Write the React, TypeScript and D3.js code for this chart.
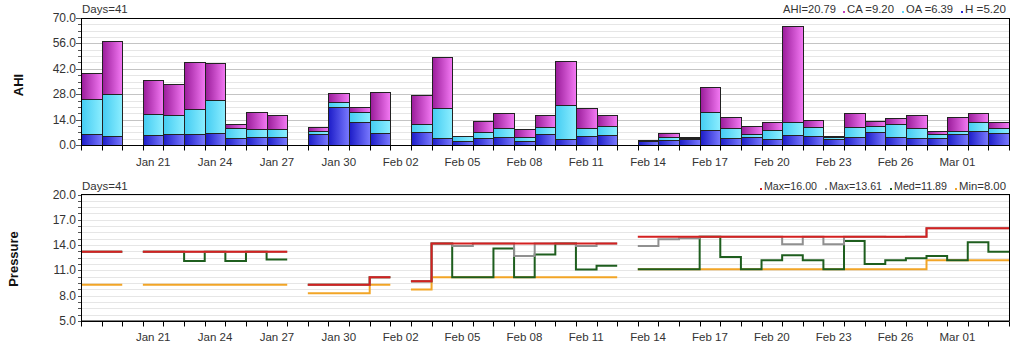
import React from "react";
import * as d3 from "d3";

// ---------- data ----------
const startDay = "2011-01-18";
const dayCount = 45;
// AHI components per day (null = no data)
const hValues: (number | null)[] = [6.2, 5.0, null, 5.7, 6.1, 6.1, 6.8, 4.0, 4.4, 4.4, null, 5.9, 20.9, 12.7, 6.8, null, 7.0, 3.9, 2.2, 3.9, 4.6, 2.2, 5.9, 3.3, 5.0, 5.5, null, 2.2, 2.9, 3.5, 8.2, 3.9, 4.6, 3.3, 5.3, 5.0, 3.3, 4.4, 7.3, 4.4, 4.0, 4.0, 6.1, 7.9, 6.6];
const oaValues: (number | null)[] = [19.2, 23.1, null, 11.6, 10.3, 13.8, 17.8, 5.2, 4.4, 4.6, null, 2.0, 2.8, 5.5, 7.0, null, 4.6, 16.5, 2.6, 3.3, 4.8, 2.0, 4.0, 18.7, 4.4, 5.0, null, 0.5, 1.3, 0.5, 9.9, 5.3, 1.6, 4.9, 7.2, 5.1, 1.0, 5.5, 3.0, 7.1, 5.4, 2.0, 1.4, 4.6, 2.6];
const caValues: (number | null)[] = [14.3, 29.4, null, 18.4, 17.2, 25.7, 20.4, 2.4, 9.6, 7.7, null, 2.0, 5.0, 2.6, 15.6, null, 16.2, 28.3, 0.0, 6.0, 8.1, 4.8, 6.4, 24.1, 11.0, 5.8, null, 0.0, 2.2, 0.3, 13.8, 6.0, 4.2, 4.4, 53.3, 3.6, 0.5, 7.5, 2.9, 3.3, 6.9, 1.9, 7.9, 4.9, 3.4];

// Pressure per day
const maxPressure: (number | null)[] = [13.2, 13.2, null, 13.2, 13.2, 13.2, 13.2, 13.2, 13.2, 13.2, null, 9.3, 9.3, 9.3, 10.2, null, 9.7, 14.2, 14.2, 14.2, 14.2, 14.2, 14.2, 14.2, 14.2, 14.2, null, 15.0, 15.0, 15.0, 15.0, 15.0, 15.0, 15.0, 15.0, 15.0, 15.0, 15.0, 15.0, 15.0, 15.0, 16.0, 16.0, 16.0, 16.0];
const p95Pressure: (number | null)[] = [13.2, 13.2, null, 13.2, 13.2, 13.2, 13.2, 13.2, 13.2, 13.2, null, 9.3, 9.3, 9.3, 10.2, null, 9.7, 14.2, 13.9, 14.2, 14.2, 12.7, 14.2, 14.2, 13.9, 14.2, null, 13.9, 14.7, 14.8, 15.0, 15.0, 15.0, 15.0, 14.1, 15.0, 14.1, 15.0, 15.0, 14.95, 15.0, 16.0, 16.0, 16.0, 16.0];
const medPressure: (number | null)[] = [13.2, 13.2, null, 13.2, 13.2, 12.1, 13.2, 12.1, 13.2, 12.3, null, 9.3, 9.3, 9.3, 10.2, null, 9.7, 14.2, 10.2, 10.2, 13.6, 10.2, 12.9, 14.2, 11.1, 11.55, null, 11.15, 11.15, 11.15, 15.0, 12.6, 11.15, 12.2, 12.8, 12.2, 11.15, 14.5, 11.75, 12.2, 12.45, 12.7, 12.2, 14.35, 13.2];
const minPressure: (number | null)[] = [9.3, 9.3, null, 9.3, 9.3, 9.3, 9.3, 9.3, 9.3, 9.3, null, 8.3, 8.3, 8.3, 9.3, null, 8.75, 10.2, 10.2, 10.2, 10.2, 10.2, 10.2, 10.2, 10.2, 10.2, null, 11.15, 11.15, 11.15, 11.15, 11.15, 11.15, 11.15, 11.15, 11.15, 11.15, 11.15, 11.15, 11.15, 11.15, 12.2, 12.2, 12.2, 12.2];

const tickLabels = ["Jan 21", "Jan 24", "Jan 27", "Jan 30", "Feb 02", "Feb 05", "Feb 08", "Feb 11", "Feb 14", "Feb 17", "Feb 20", "Feb 23", "Feb 26", "Mar 01"];

const ahiLegend = [
  { label: "AHI=20.79", key: "" },
  { label: "CA =9.20", key: "ca" },
  { label: "OA =6.39", key: "oa" },
  { label: "H =5.20", key: "h" },
];
const pressureLegend = [
  { label: "Max=16.00", key: "max" },
  { label: "Max=13.61", key: "p95" },
  { label: "Med=11.89", key: "med" },
  { label: "Min=8.00", key: "min" },
];

// ---------- styles ----------
const FONT = "'Liberation Sans', Arial, sans-serif";
const colors: Record<string, string> = {
  h: "#2a2ae0",
  oa: "#5ed8fa",
  ca: "#c040c0",
  max: "#d42020",
  p95: "#909090",
  med: "#1e5e1e",
  min: "#f2a526",
};

const W = 1024;
const H = 355;
const left = 81;
const right = 1009;

export default function App() {
  const start = d3.utcParse("%Y-%m-%d")(startDay)!;
  const end = d3.utcDay.offset(start, dayCount);
  const days = d3.utcDay.range(start, end);
  const x = d3.scaleUtc().domain([start, end]).range([left, right]);
  const parseLabel = d3.utcParse("%b %d %Y");
  const labelDates = tickLabels.map((t) => parseLabel(t + " 2011")!);

  const yTop = d3.scaleLinear().domain([0, 70]).range([145, 18]);
  const yBot = d3.scaleLinear().domain([5, 20]).range([321, 194.5]);

  const dayW = x(days[1]) - x(days[0]);

  const stepRuns = (vals: (number | null)[]) => {
    const runs: [Date, number][][] = [];
    let cur: [Date, number][] | null = null;
    vals.forEach((v, i) => {
      if (v == null) {
        cur = null;
        return;
      }
      if (!cur) {
        cur = [];
        runs.push(cur);
      }
      cur.push([days[i], v]);
    });
    return runs.map((r) => [...r, [d3.utcDay.offset(r[r.length - 1][0], 1), r[r.length - 1][1]] as [Date, number]]);
  };
  const line = d3
    .line<[Date, number]>()
    .x((d) => x(d[0]))
    .y((d) => yBot(d[1]))
    .curve(d3.curveStepAfter);

  const renderXAxis = (y0: number, labelY: number) => (
    <g>
      <line x1={left} x2={right} y1={y0} y2={y0} stroke="#000" strokeWidth={1} />
      {d3.utcDay.range(start, d3.utcDay.offset(end, 1)).map((d, i) => (
        <line key={i} x1={Math.round(x(d)) + 0.5} x2={Math.round(x(d)) + 0.5} y1={y0} y2={y0 + 5} stroke="#000" />
      ))}
      {labelDates.map((d, i) => (
        <text key={i} x={x(d) + dayW / 2} y={labelY} textAnchor="middle" fontSize={11.5} fontFamily={FONT} fill="#333">
          {tickLabels[i]}
        </text>
      ))}
    </g>
  );

  const renderGrid = (
    y: d3.ScaleLinear<number, number>,
    lo: number,
    hi: number,
    minorStep: number,
    majorStep: number
  ) => {
    const vals = d3.range(lo, hi + 1e-6, minorStep);
    return (
      <g>
        {vals.map((v, i) => {
          const major = Math.abs(v / majorStep - Math.round(v / majorStep)) < 1e-6;
          const yy = Math.round(y(v)) + 0.5;
          return (
            <g key={i}>
              <line x1={left} x2={right} y1={yy} y2={yy} stroke={major ? "#c4c4c4" : "#e6e6e6"} strokeWidth={1} />
              <line x1={left - (major ? 5 : 3)} x2={left} y1={yy} y2={yy} stroke="#555" strokeWidth={1} />
            </g>
          );
        })}
        {d3.range(lo, hi + 1e-6, majorStep).map((v, i) => (
          <text key={i} x={left - 5} y={y(v) + 4} textAnchor="end" fontSize={12} fontFamily={FONT} fill="#333">
            {d3.format(".1f")(v)}
          </text>
        ))}
      </g>
    );
  };

  const renderLegend = (items: { label: string; key: string }[], yy: number) => {
    // right-aligned: build from right
    const charW = 6.0;
    const widths = items.map((it) => (it.key ? 5 : 0) + it.label.length * charW);
    const gap = 6;
    const total = d3.sum(widths) + gap * (items.length - 1);
    let cx = 1008 - total;
    return (
      <g>
        {items.map((it, i) => {
          const x0 = cx;
          cx += widths[i] + gap;
          return (
            <g key={i}>
              {it.key && <rect x={x0} y={yy - 2} width={2} height={2} fill={colors[it.key]} />}
              <text x={x0 + (it.key ? 4 : 0)} y={yy} fontSize={11.5} fontFamily={FONT} fill="#333" textLength={it.label.length * charW - 1} lengthAdjust="spacingAndGlyphs">
                {it.label}
              </text>
            </g>
          );
        })}
      </g>
    );
  };

  const stackKeys = ["h", "oa", "ca"];
  const stackVals = [hValues, oaValues, caValues];

  return (
    <div style={{ position: "fixed", left: 0, top: 0 }}>
      <svg width={W} height={H} style={{ display: "block", background: "#fff" }}>
        <defs>
          <linearGradient id="g-h" x1="0" x2="1" y1="0" y2="0">
            <stop offset="0" stopColor="#1c1cc8" />
            <stop offset="1" stopColor="#7a7aff" />
          </linearGradient>
          <linearGradient id="g-oa" x1="0" x2="1" y1="0" y2="0">
            <stop offset="0" stopColor="#44ccf2" />
            <stop offset="1" stopColor="#8ceeff" />
          </linearGradient>
          <linearGradient id="g-ca" x1="0" x2="1" y1="0" y2="0">
            <stop offset="0" stopColor="#9a1c9a" />
            <stop offset="1" stopColor="#f47af4" />
          </linearGradient>
        </defs>

        {/* ---------- Top chart ---------- */}
        {renderGrid(yTop, 0, 70, 3.5, 14)}
        <g>
          {days.map((d, i) => {
            if (hValues[i] == null) return null;
            let acc = 0;
            return (
              <g key={i}>
                {stackKeys.map((k, j) => {
                  const v = stackVals[j][i] as number;
                  const y0 = acc;
                  acc += v;
                  if (v <= 0) return null;
                  const x0 = Math.round(x(d)) + 0.5;
                  const x1 = Math.round(x(d3.utcDay.offset(d, 1))) + 0.5;
                  const yA = Math.round(yTop(acc)) + 0.5;
                  const yB = Math.round(yTop(y0)) + 0.5;
                  return (
                    <rect key={k} x={x0} y={yA} width={x1 - x0} height={Math.max(0.5, yB - yA)} fill={`url(#g-${k})`} stroke="#222" strokeWidth={1} />
                  );
                })}
              </g>
            );
          })}
        </g>
        <rect x={left + 0.5} y={18.5} width={right - left} height={145 - 18} fill="none" stroke="#000" strokeWidth={1} />
        {renderXAxis(145.5, 166)}
        <text x={82} y={13} fontSize={11.5} fontFamily={FONT} fill="#333">Days=41</text>
        {renderLegend(ahiLegend, 13)}
        <text transform="translate(23,85) rotate(-90)" textAnchor="middle" fontSize={13} fontWeight="bold" fontFamily={FONT} fill="#111">AHI</text>

        {/* ---------- Bottom chart ---------- */}
        {renderGrid(yBot, 5, 20, 0.75, 3)}
        {[
          { vals: minPressure, key: "min" },
          { vals: medPressure, key: "med" },
          { vals: p95Pressure, key: "p95" },
          { vals: maxPressure, key: "max" },
        ].map((s) =>
          stepRuns(s.vals).map((run, i) => (
            <path key={s.key + i} d={line(run) || ""} fill="none" stroke={colors[s.key]} strokeWidth={2} />
          ))
        )}
        <rect x={left + 0.5} y={194.5} width={right - left} height={321 - 194.5} fill="none" stroke="#000" strokeWidth={1} />
        {renderXAxis(321.5, 341)}
        <text x={82} y={190} fontSize={11.5} fontFamily={FONT} fill="#333">Days=41</text>
        {renderLegend(pressureLegend, 190)}
        <text transform="translate(18,259) rotate(-90)" textAnchor="middle" fontSize={13} fontWeight="bold" fontFamily={FONT} fill="#111">Pressure</text>
      </svg>
    </div>
  );
}
